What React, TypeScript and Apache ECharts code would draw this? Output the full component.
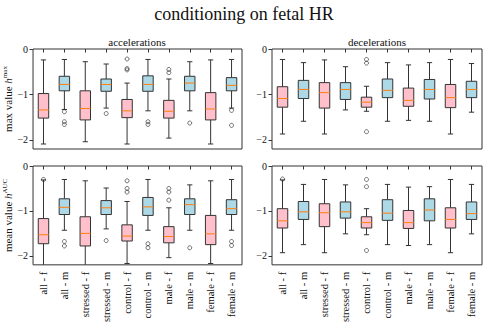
import React, { useEffect, useRef } from 'react';
import * as echarts from 'echarts';

const categories = ['all - f', 'all - m', 'stressed - f', 'stressed - m', 'control - f', 'control - m', 'male - f', 'male - m', 'female - f', 'female - m'];
const yTicks = [0, -1, -2];
const panelTitles = ['accelerations', 'decelerations'];
const mainTitle = 'conditioning on fetal HR';

// [low whisker, q1, median, q3, high whisker]
const accMaxBoxes = [
  [-2.09, -1.52, -1.34, -0.98, -0.24],
  [-1.33, -0.92, -0.78, -0.60, -0.23],
  [-2.04, -1.56, -1.31, -0.92, -0.28],
  [-1.30, -0.93, -0.78, -0.66, -0.33],
  [-2.09, -1.51, -1.36, -1.11, -0.75],
  [-1.36, -0.93, -0.78, -0.59, -0.23],
  [-1.96, -1.52, -1.37, -1.13, -0.66],
  [-1.36, -0.92, -0.75, -0.60, -0.28],
  [-2.09, -1.56, -1.32, -0.96, -0.24],
  [-1.30, -0.92, -0.80, -0.63, -0.23],
];
const decMaxBoxes = [
  [-1.87, -1.28, -1.09, -0.83, -0.23],
  [-1.59, -1.09, -0.89, -0.69, -0.30],
  [-1.87, -1.30, -0.96, -0.74, -0.24],
  [-1.34, -1.11, -0.89, -0.74, -0.39],
  [-1.37, -1.28, -1.17, -1.06, -0.82],
  [-1.59, -1.07, -0.91, -0.66, -0.30],
  [-1.57, -1.26, -1.13, -0.86, -0.35],
  [-1.59, -1.10, -0.89, -0.67, -0.30],
  [-1.87, -1.29, -1.07, -0.78, -0.23],
  [-1.39, -1.07, -0.89, -0.71, -0.32],
];
const accMeanBoxes = [
  [-2.40, -1.73, -1.53, -1.17, -0.31],
  [-1.43, -1.08, -0.92, -0.73, -0.30],
  [-2.40, -1.78, -1.50, -1.13, -0.33],
  [-1.40, -1.08, -0.93, -0.77, -0.49],
  [-2.17, -1.67, -1.56, -1.31, -0.79],
  [-1.43, -1.10, -0.91, -0.70, -0.30],
  [-2.04, -1.71, -1.57, -1.35, -0.93],
  [-1.43, -1.08, -0.86, -0.73, -0.42],
  [-2.17, -1.75, -1.51, -1.10, -0.33],
  [-1.43, -1.08, -0.95, -0.75, -0.30],
];
const decMeanBoxes = [
  [-1.93, -1.38, -1.22, -0.95, -0.31],
  [-1.75, -1.19, -1.02, -0.79, -0.41],
  [-1.93, -1.35, -1.04, -0.84, -0.30],
  [-1.51, -1.16, -1.02, -0.80, -0.42],
  [-1.53, -1.38, -1.26, -1.13, -0.95],
  [-1.75, -1.21, -1.05, -0.75, -0.41],
  [-1.77, -1.39, -1.26, -0.99, -0.47],
  [-1.75, -1.22, -0.98, -0.73, -0.46],
  [-1.93, -1.38, -1.19, -0.93, -0.30],
  [-1.51, -1.19, -1.06, -0.80, -0.41],
];

// [category index, value]
const accMaxOutliers = [
  [1, -1.38], [1, -1.60], [1, -1.66], [3, -1.42], [4, -0.22], [4, -0.43], [4, -0.46],
  [5, -1.60], [5, -1.66], [6, -0.45], [6, -0.52], [7, -1.63], [9, -1.35], [9, -1.68],
];
const decMaxOutliers = [[4, -0.23], [4, -0.31], [4, -1.82]];
const accMeanOutliers = [
  [0, -0.30], [1, -1.68], [1, -1.78], [3, -1.66], [4, -0.33], [4, -0.50], [4, -0.58],
  [5, -1.73], [5, -1.82], [6, -0.50], [6, -0.58], [6, -0.76], [7, -1.82], [9, -1.68], [9, -1.77],
];
const decMeanOutliers = [[0, -0.29], [4, -0.30], [4, -0.46], [4, -1.88]];

const panels = [
  { boxes: accMaxBoxes, outliers: accMaxOutliers },
  { boxes: decMaxBoxes, outliers: decMaxOutliers },
  { boxes: accMeanBoxes, outliers: accMeanOutliers },
  { boxes: decMeanBoxes, outliers: decMeanOutliers },
];

const FONT = '"Liberation Serif", "DejaVu Serif", serif';
const EDGE = '#333';
const TXT = '#111';

const renderBox = (params: any, api: any) => {
  const i = api.value(0);
  const low = api.value(1), q1 = api.value(2), med = api.value(3), q3 = api.value(4), high = api.value(5);
  const band = api.size([1, 0])[0];
  const bw = band * 0.5;
  const cx = api.coord([i, 0])[0];
  const y = (v: number) => api.coord([i, v])[1];
  const fill = i % 2 === 0 ? '#ffc0cb' : '#add8e6';
  const ls = { stroke: EDGE, lineWidth: 1 };
  return {
    type: 'group',
    children: [
      { type: 'line', shape: { x1: cx, y1: y(high), x2: cx, y2: y(q3) }, style: ls },
      { type: 'line', shape: { x1: cx, y1: y(q1), x2: cx, y2: y(low) }, style: ls },
      { type: 'line', shape: { x1: cx - bw / 4, y1: y(high), x2: cx + bw / 4, y2: y(high) }, style: ls },
      { type: 'line', shape: { x1: cx - bw / 4, y1: y(low), x2: cx + bw / 4, y2: y(low) }, style: ls },
      { type: 'rect', shape: { x: cx - bw / 2, y: y(q3), width: bw, height: y(q1) - y(q3) }, style: { fill, stroke: EDGE, lineWidth: 1 } },
      { type: 'line', shape: { x1: cx - bw / 2, y1: y(med), x2: cx + bw / 2, y2: y(med) }, style: { stroke: '#ff7f0e', lineWidth: 1 } },
    ],
  };
};

const gridPos = [
  { left: 32, top: 49, width: 210, height: 100 },
  { left: 272, top: 49, width: 210, height: 100 },
  { left: 32, top: 166, width: 210, height: 100 },
  { left: 272, top: 166, width: 210, height: 100 },
];

const yNames = [
  '{t|max value }{i|h}{s|max}',
  '',
  '{t|mean value }{i|h}{s|AUC}',
  '',
];

export default function App() {
  const ref = useRef<HTMLDivElement>(null);
  useEffect(() => {
    if (!ref.current) return;
    const chart = echarts.init(ref.current, null, { renderer: 'svg' });
    const option: any = {
      animation: false,
      backgroundColor: '#fff',
      title: {
        text: mainTitle,
        left: 'center',
        top: 0,
        textStyle: { fontFamily: FONT, fontWeight: 'normal', fontSize: 18, color: TXT },
      },
      graphic: panelTitles.map((t, k) => ({
        type: 'text',
        x: 137 + k * 240,
        y: 42,
        style: { text: t, textAlign: 'center', textVerticalAlign: 'middle', font: `11px ${FONT}`, fill: TXT },
      })),
      grid: gridPos.map((g) => ({ ...g, show: true, borderColor: EDGE, borderWidth: 1, backgroundColor: 'transparent' })),
      xAxis: gridPos.map((g, k) => ({
        type: 'category',
        gridIndex: k,
        data: categories,
        boundaryGap: true,
        axisLine: { show: false },
        axisTick: { show: true, alignWithLabel: true, length: 3.5, lineStyle: { color: EDGE } },
        axisLabel: {
          show: k >= 2,
          rotate: 90,
          interval: 0,
          fontFamily: FONT,
          fontSize: 10.5,
          color: TXT,
          margin: 7,
        },
        splitLine: { show: false },
      })),
      yAxis: gridPos.map((g, k) => ({
        type: 'value',
        gridIndex: k,
        min: -2.2,
        max: 0,
        axisLine: { show: false },
        splitLine: { show: false },
        axisTick: { show: true, length: 3.5, lineStyle: { color: EDGE }, customValues: yTicks },
        axisLabel: {
          customValues: yTicks,
          fontFamily: FONT,
          fontSize: 10,
          color: TXT,
          margin: 5,
          formatter: (v: number) => (v < 0 ? '\u2212' + Math.abs(v) : String(v)),
        },
        name: yNames[k],
        nameLocation: 'middle',
        nameRotate: 90,
        nameGap: 18,
        nameTextStyle: {
          fontFamily: FONT,
          fontSize: 11,
          color: TXT,
          rich: {
            t: { fontFamily: FONT, fontSize: 11, color: TXT, lineHeight: 14 },
            i: { fontFamily: FONT, fontSize: 11, fontStyle: 'italic', color: TXT, lineHeight: 14 },
            s: { fontFamily: FONT, fontSize: 7, color: TXT, verticalAlign: 'top', lineHeight: 14 },
          },
        },
      })),
      series: panels.flatMap((p, k) => [
        {
          type: 'custom',
          xAxisIndex: k,
          yAxisIndex: k,
          clip: true,
          renderItem: renderBox,
          encode: { x: 0, y: [1, 2, 3, 4, 5] },
          data: p.boxes.map((b, i) => [i, ...b]),
        },
        {
          type: 'scatter',
          xAxisIndex: k,
          yAxisIndex: k,
          symbol: 'circle',
          symbolSize: 4,
          itemStyle: { color: 'rgba(0,0,0,0)', borderColor: '#222', borderWidth: 0.8 },
          data: p.outliers,
          z: 3,
        },
      ]),
    };
    chart.setOption(option);
    return () => chart.dispose();
  }, []);
  return <div ref={ref} style={{ position: 'absolute', left: 0, top: 0, width: 488, height: 325 }} />;
}
